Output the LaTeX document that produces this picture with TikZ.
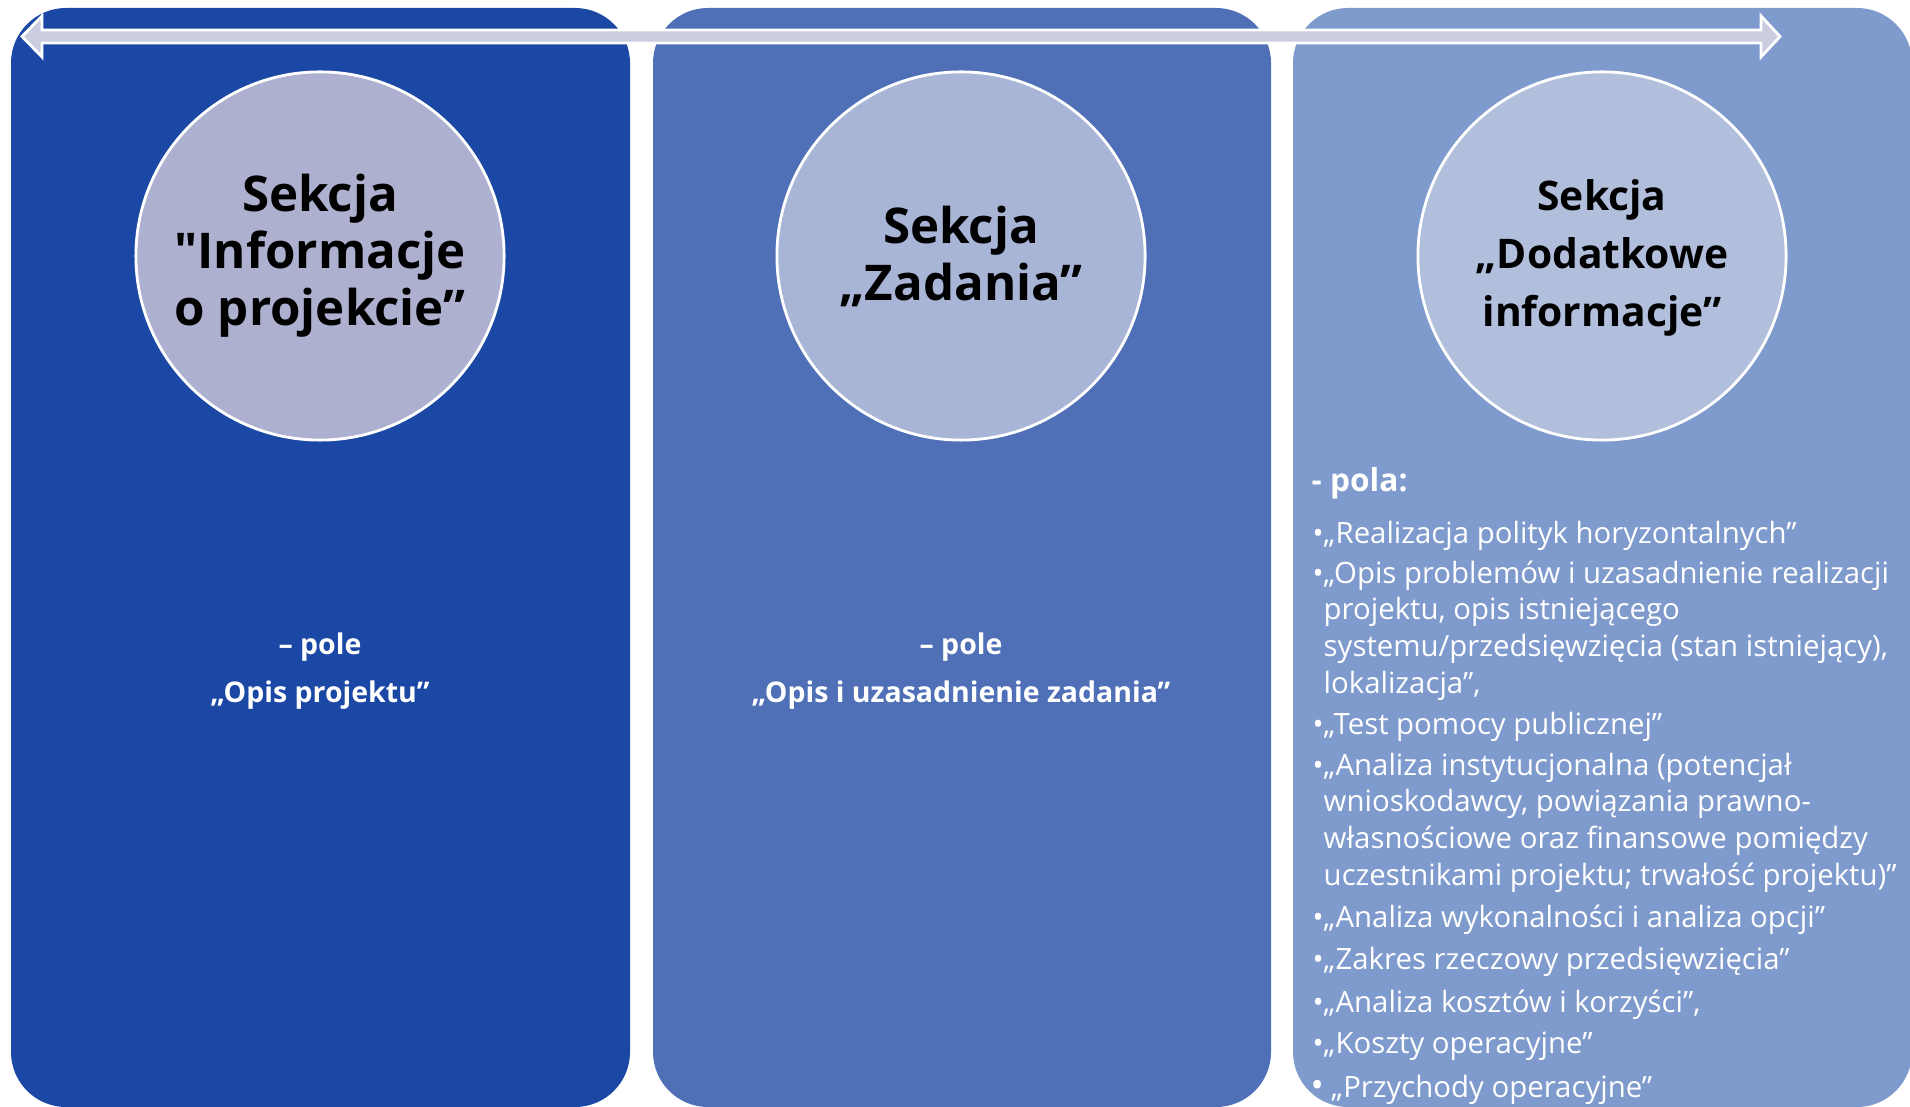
\documentclass[tikz,border=0pt]{standalone}
\usepackage{fontspec}
\setmainfont[Ligatures=TeXOff]{Open Sans}
\usetikzlibrary{positioning,calc}
\definecolor{kolumnaA}{HTML}{1B48A5}
\definecolor{kolumnaB}{HTML}{4F70B7}
\definecolor{kolumnaC}{HTML}{7F9ACC}
\definecolor{kolkoA}{HTML}{ADB0CF}
\definecolor{kolkoB}{HTML}{A9B5D7}
\definecolor{kolkoC}{HTML}{B1BFDD}
\definecolor{strzalka}{HTML}{CBCCDF}
\begin{document}
\begin{tikzpicture}[x=0.01cm,y=-0.01cm,
   kolumna/.style={rounded corners=0.55cm},
   sekcja/.style={circle,draw=white,line width=0.8pt,minimum size=3.68cm,inner sep=0pt,align=center,
      font=\bfseries\fontsize{14}{16.2}\selectfont},
   pole/.style={text=white,align=center,font=\bfseries\fontsize{8.1}{13.5}\selectfont},
   punkt/.style={text=white,anchor=base west,align=left,inner sep=0pt,
      font=\fontsize{8.35}{10.4}\selectfont}]
   \useasboundingbox (0,0) rectangle (1910,1107);
   % kolumny
   \fill[kolumnaA,kolumna] (11,8) rectangle (630,1107);
   \fill[kolumnaB,kolumna] (653,8) rectangle (1271,1107);
   \fill[kolumnaC,kolumna] (1293,8) rectangle (1912,1107);
   % strzalka
   \filldraw[fill=strzalka,draw=white,line width=0.8pt]
      (22,36.5) -- (42,16) -- (42,30) -- (1761,30) -- (1761,16) -- (1780,36.5)
      -- (1761,57) -- (1761,43) -- (42,43) -- (42,57) -- cycle;
   % sekcje
   \path (320,256)  node (info) [sekcja,fill=kolkoA] {Sekcja\\"Informacje\\o projekcie”}
         (961,256)  node (zad)  [sekcja,fill=kolkoB] {Sekcja\\„Zadania”}
         (1602,256) node (dod)  [sekcja,fill=kolkoC,font=\bfseries\fontsize{11.6}{16.5}\selectfont]
                                {\rule{0pt}{10pt}Sekcja\\„Dodatkowe\\informacje”};
   \node (poleA) [pole] at ($(info)+(0,415)$) {– pole\\„Opis projektu”};
   \node (poleB) [pole] at ($(zad)+(0,415)$) {– pole\\„Opis i uzasadnienie zadania”};
   % pola sekcji dodatkowej (kotwica: linia bazowa ostatniego wiersza)
   \node (pola) [text=white,anchor=west,inner sep=0pt,font=\bfseries\fontsize{9}{11}\selectfont]
      at (1311,483) {- pola:};
   \node (p1) [punkt] at (1323,544) {\llap{•}„Realizacja polityk horyzontalnych”};
   \node (p2) [punkt] at (1323,693) {\llap{•}„Opis problemów i uzasadnienie realizacji\\projektu, opis istniejącego\\systemu/przedsięwzięcia (stan istniejący),\\lokalizacja”,};
   \node (p3) [punkt] at (1323,735) {\llap{•}„Test pomocy publicznej”};
   \node (p4) [punkt] at (1323,885) {\llap{•}„Analiza instytucjonalna (potencjał\\wnioskodawcy, powiązania prawno-\\własnościowe oraz finansowe pomiędzy\\uczestnikami projektu; trwałość projektu)”};
   \node (p5) [punkt] at (1323,927) {\llap{•}„Analiza wykonalności i analiza opcji”};
   \node (p6) [punkt] at (1323,969) {\llap{•}„Zakres rzeczowy przedsięwzięcia”};
   \node (p7) [punkt] at (1323,1012) {\llap{•}„Analiza kosztów i korzyści”,};
   \node (p8) [punkt] at (1323,1053) {\llap{•}„Koszty operacyjne”};
   \node (p9) [punkt] at (1323,1097) {\llap{\fontsize{10}{10}\selectfont•}\ „Przychody operacyjne”};
\end{tikzpicture}
\end{document}
